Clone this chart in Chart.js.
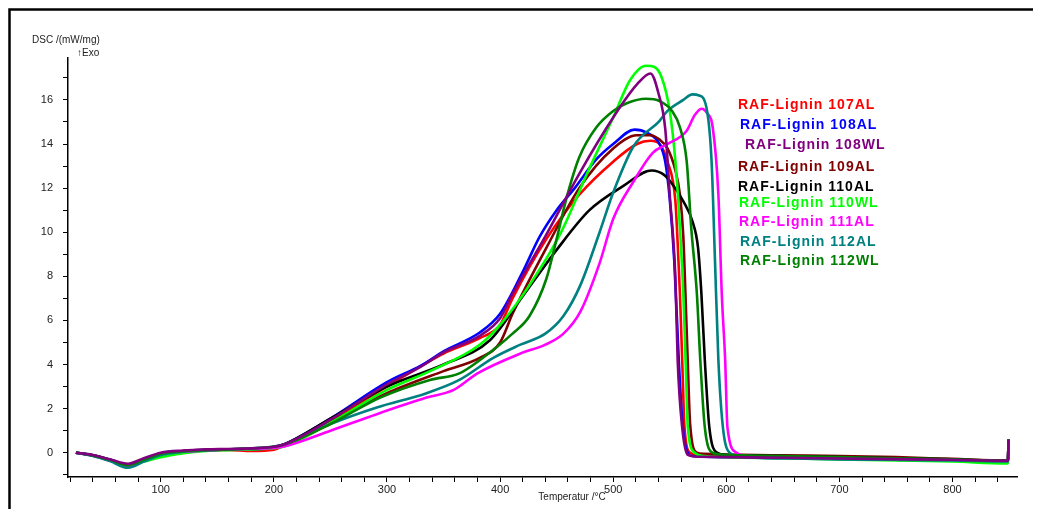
<!DOCTYPE html>
<html>
<head>
<meta charset="utf-8">
<script src="https://cdn.jsdelivr.net/npm/chart.js@4.4.1/dist/chart.umd.min.js"></script>
<style>
  html, body { margin: 0; padding: 0; background: #fff; }
  #wrap { width: 1042px; height: 509px; position: relative; }
</style>
</head>
<body>
<div id="wrap"><canvas id="dsc"></canvas></div>
<script>
// Temperatur (°C), DSC (mW/mg)
const lignin107AL = [[25,0],[40,-0.12],[55,-0.32],[71,-0.55],[85,-0.32],[100,-0.04],[120,0.07],[140,0.12],[160,0.13],[180,0.08],[200,0.14],[210,0.35],[250,1.45],[300,3.0],[350,4.5],[382,5.2],[400,5.8],[411,7.0],[441,9.7],[470,11.7],[500,13.2],[521,14.0],[533,14.15],[541,14.0],[548,13.2],[555,11.4],[557,9.5],[559,7.2],[561,4.2],[563,1.2],[568,0.0],[575,-0.12],[600,-0.15],[650,-0.2],[700,-0.24],[750,-0.28],[800,-0.32],[848,-0.37],[849,-0.37],[849.5,0.6]];
const lignin108AL = [[25,0],[40,-0.12],[55,-0.32],[71,-0.55],[85,-0.3],[100,-0.02],[120,0.08],[140,0.13],[160,0.15],[180,0.15],[200,0.25],[210,0.4],[250,1.55],[300,3.2],[330,3.95],[350,4.6],[382,5.45],[400,6.3],[420,8.2],[435,9.8],[450,11.0],[466,12.0],[485,13.3],[500,14.0],[519,14.65],[530,14.5],[541,14.0],[546,13.2],[550,11.5],[554,8.7],[558,4.2],[561,1.5],[565,0.1],[570,-0.15],[600,-0.2],[650,-0.25],[700,-0.27],[750,-0.3],[800,-0.33],[848,-0.38],[849,-0.38],[849.5,0.6]];
const lignin108WL = [[25,0],[40,-0.1],[55,-0.3],[71,-0.5],[85,-0.25],[100,0.0],[120,0.1],[140,0.15],[160,0.17],[180,0.2],[200,0.27],[210,0.4],[250,1.5],[300,3.1],[330,3.9],[350,4.55],[382,5.3],[400,6.1],[411,7.2],[441,9.9],[470,12.65],[500,15.2],[521,16.7],[533,17.2],[540,16.3],[546,14.7],[550,11.7],[555,7.9],[557,4.2],[561,1.15],[566,-0.1],[575,-0.18],[600,-0.2],[650,-0.23],[700,-0.26],[750,-0.29],[800,-0.32],[848,-0.36],[849,-0.36],[849.5,0.6]];
const lignin109AL = [[25,0],[40,-0.12],[55,-0.32],[71,-0.55],[85,-0.3],[100,-0.03],[120,0.08],[140,0.13],[160,0.15],[180,0.18],[200,0.25],[210,0.38],[250,1.4],[300,2.7],[350,3.7],[382,4.3],[400,5.0],[411,6.3],[441,9.3],[470,12.0],[500,13.8],[521,14.4],[533,14.4],[541,14.2],[548,13.8],[555,12.8],[559,11.7],[562,9.8],[564,7.0],[566,4.0],[568,1.3],[574,0.0],[580,-0.05],[600,-0.08],[650,-0.12],[700,-0.15],[750,-0.2],[800,-0.28],[848,-0.35],[849,-0.35],[849.5,0.6]];
const lignin110AL = [[25,0],[40,-0.12],[55,-0.32],[71,-0.55],[85,-0.32],[100,-0.05],[120,0.07],[140,0.12],[160,0.15],[180,0.18],[200,0.26],[210,0.4],[250,1.55],[300,3.0],[350,4.0],[391,5.1],[420,7.1],[450,9.2],[479,11.0],[509,12.1],[534,12.8],[545,12.6],[552,12.2],[562,11.4],[570,10.5],[575,9.3],[578,7.2],[581,4.2],[585,1.15],[592,0.0],[600,-0.1],[650,-0.15],[700,-0.2],[750,-0.25],[800,-0.3],[848,-0.36],[849,-0.36],[849.5,0.6]];
const lignin110WL = [[25,0],[40,-0.12],[55,-0.32],[71,-0.58],[85,-0.4],[100,-0.2],[120,-0.02],[140,0.08],[160,0.12],[180,0.15],[200,0.2],[210,0.3],[250,1.35],[300,2.85],[338,3.7],[382,4.9],[400,5.8],[426,7.6],[453,9.9],[479,12.9],[500,15.2],[515,16.9],[529,17.55],[536,17.5],[543,17.0],[550,15.5],[555,13.2],[559,10.2],[562,7.2],[564,4.2],[566,1.15],[572,0.0],[580,-0.15],[600,-0.2],[650,-0.25],[700,-0.3],[750,-0.35],[800,-0.4],[848,-0.48],[849,-0.48],[849.5,0.6]];
const lignin111AL = [[25,0],[40,-0.13],[55,-0.35],[71,-0.62],[85,-0.35],[100,-0.05],[120,0.05],[140,0.1],[160,0.15],[180,0.18],[200,0.22],[210,0.3],[250,1.0],[291,1.75],[335,2.5],[359,2.85],[380,3.6],[418,4.5],[440,4.9],[456,5.4],[471,6.4],[488,8.6],[500,10.6],[518,12.3],[535,13.6],[548,14.0],[565,14.6],[572,15.3],[578,15.6],[583,15.4],[588,14.75],[593,11.7],[596,7.2],[599,4.2],[601,1.15],[609,0.0],[620,-0.15],[650,-0.2],[700,-0.25],[750,-0.3],[800,-0.33],[848,-0.38],[849,-0.38],[849.5,0.6]];
const lignin112AL = [[25,0],[40,-0.15],[55,-0.38],[71,-0.68],[85,-0.4],[100,-0.1],[120,0.05],[140,0.1],[160,0.15],[180,0.2],[200,0.28],[210,0.4],[250,1.3],[291,2.05],[335,2.7],[364,3.3],[394,4.3],[418,4.9],[440,5.4],[456,6.2],[471,7.6],[488,10.0],[500,11.8],[518,13.9],[541,15.05],[548,15.5],[562,16.0],[570,16.25],[576,16.2],[583,15.5],[587,13.2],[590,8.7],[593,4.2],[597,1.15],[603,0.0],[615,-0.2],[650,-0.25],[700,-0.3],[750,-0.32],[800,-0.35],[848,-0.4],[849,-0.4],[849.5,0.6]];
const lignin112WL = [[25,0],[40,-0.12],[55,-0.32],[71,-0.56],[85,-0.32],[100,-0.04],[120,0.07],[140,0.12],[160,0.15],[180,0.2],[200,0.27],[210,0.38],[250,1.3],[294,2.5],[338,3.3],[364,3.6],[382,4.2],[411,5.4],[426,6.2],[441,7.9],[450,9.7],[459,11.6],[470,13.4],[485,14.75],[500,15.5],[512,15.85],[529,16.05],[541,15.95],[552,15.5],[559,14.75],[565,13.2],[569,10.2],[574,7.2],[577,4.2],[581,1.15],[588,0.0],[600,-0.1],[650,-0.15],[700,-0.2],[750,-0.25],[800,-0.3],[848,-0.36],[849,-0.36],[849.5,0.6]];

const seriesNames = ['RAF-Lignin 107AL','RAF-Lignin 108AL','RAF-Lignin 108WL','RAF-Lignin 109AL','RAF-Lignin 110AL','RAF-Lignin 110WL','RAF-Lignin 111AL','RAF-Lignin 112AL','RAF-Lignin 112WL'];
const seriesData = [lignin107AL, lignin108AL, lignin108WL, lignin109AL, lignin110AL, lignin110WL, lignin111AL, lignin112AL, lignin112WL];
const seriesColors = ['#ff0000','#0000ff','#800080','#800000','#000000','#00ff00','#ff00ff','#008080','#008000'];
// drawing order: lower number ends up on top (108WL topmost)
const seriesOrder = [9, 8, 0, 7, 6, 5, 4, 3, 2];

const xTicks = [];
for (let t = 20; t <= 840; t += 20) xTicks.push(t);
const yTicks = [];
for (let v = -1; v <= 17; v += 1) yTicks.push(v);

// legend text positions (left x, middle y)
const legendPos = [[738,105],[740,125],[745,145],[738,167],[738,187],[739,203],[739,222],[740,242],[740,261]];

const FONT = '"Liberation Sans", Arial, sans-serif';

const decor = {
  id: 'decor',
  afterDraw(chart) {
    const ctx = chart.ctx;
    ctx.save();
    // frame
    ctx.strokeStyle = '#000';
    ctx.lineWidth = 2.5;
    ctx.beginPath();
    ctx.moveTo(9.5, 509);
    ctx.lineTo(9.5, 9.5);
    ctx.lineTo(1033, 9.5);
    ctx.stroke();

    ctx.fillStyle = '#222';
    ctx.font = '10px ' + FONT;
    ctx.textBaseline = 'middle';
    ctx.textAlign = 'left';
    ctx.fillText('DSC /(mW/mg)', 32, 40);
    ctx.fillText('\u2191Exo', 77, 53);
    ctx.textAlign = 'center';
    ctx.fillText('Temperatur /\u00B0C', 572, 497);

    // legend
    ctx.textAlign = 'left';
    ctx.font = 'bold 14px ' + FONT;
    if ('letterSpacing' in ctx) ctx.letterSpacing = '1px';
    seriesNames.forEach((n, i) => {
      ctx.fillStyle = seriesColors[i];
      ctx.fillText(n, legendPos[i][0], legendPos[i][1]);
    });
    ctx.restore();
  }
};

new Chart(document.getElementById('dsc'), {
  type: 'line',
  data: {
    datasets: seriesNames.map((n, i) => ({
      label: n,
      data: seriesData[i].map(p => ({ x: p[0], y: p[1] })),
      borderColor: seriesColors[i],
      borderWidth: 2.6,
      pointRadius: 0,
      fill: false,
      order: seriesOrder[i],
      cubicInterpolationMode: 'monotone'
    }))
  },
  options: {
    responsive: true,
    maintainAspectRatio: false,
    animation: false,
    layout: { padding: { left: 0, top: 58, right: 25, bottom: 0 } },
    plugins: { legend: { display: false }, tooltip: { enabled: false } },
    scales: {
      x: {
        type: 'linear',
        min: 18,
        max: 857,
        afterBuildTicks: s => { s.ticks = xTicks.map(v => ({ value: v })); },
        afterFit: s => { s.height = 32; },
        grid: { drawOnChartArea: false, drawTicks: true, tickLength: 5, color: '#000' },
        border: { display: true, color: '#000', width: 1.5 },
        ticks: {
          autoSkip: false,
          maxRotation: 0,
          padding: 1,
          color: '#222',
          font: { family: FONT, size: 11 },
          callback: v => (v % 100 === 0 ? String(v) : '')
        }
      },
      y: {
        min: -1.1,
        max: 17.9,
        afterBuildTicks: s => { s.ticks = yTicks.map(v => ({ value: v })); },
        afterFit: s => { s.width = 68; },
        grid: { drawOnChartArea: false, drawTicks: true, tickLength: 5, color: '#000' },
        border: { display: true, color: '#000', width: 1.5 },
        ticks: {
          autoSkip: false,
          padding: 10,
          color: '#222',
          font: { family: FONT, size: 11 },
          callback: v => (v >= 0 && v % 2 === 0 ? String(v) : '')
        }
      }
    }
  },
  plugins: [decor]
});
</script>
</body>
</html>
